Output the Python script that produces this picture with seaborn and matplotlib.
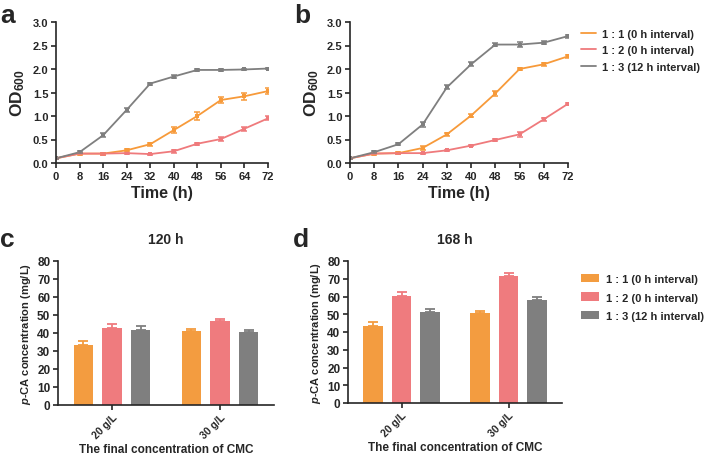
import numpy as np
import pandas as pd
import matplotlib
matplotlib.use("Agg")
import matplotlib.pyplot as plt
import seaborn as sns
from matplotlib.lines import Line2D
from matplotlib.patches import Patch

# ==========================================
# DATA
# ==========================================
time_h = [0, 8, 16, 24, 32, 40, 48, 56, 64, 72]
ratios = ["1 : 1 (0 h interval)", "1 : 2 (0 h interval)", "1 : 3 (12 h interval)"]

# panel a - OD600
a_11 = [0.10, 0.20, 0.20, 0.27, 0.40, 0.70, 1.00, 1.34, 1.42, 1.53]
a_12 = [0.10, 0.20, 0.20, 0.21, 0.19, 0.25, 0.41, 0.51, 0.73, 0.95]
a_13 = [0.10, 0.23, 0.59, 1.13, 1.69, 1.84, 1.98, 1.98, 1.99, 2.01]
a_11_err = [0.01, 0.02, 0.02, 0.02, 0.03, 0.07, 0.09, 0.06, 0.07, 0.06]
a_12_err = [0.01, 0.01, 0.02, 0.01, 0.01, 0.03, 0.02, 0.04, 0.04, 0.04]
a_13_err = [0.01, 0.02, 0.04, 0.04, 0.02, 0.03, 0.02, 0.02, 0.02, 0.02]

# panel b - OD600
b_11 = [0.10, 0.20, 0.21, 0.32, 0.61, 1.01, 1.48, 2.00, 2.10, 2.27]
b_12 = [0.10, 0.20, 0.21, 0.21, 0.27, 0.37, 0.49, 0.61, 0.93, 1.26]
b_13 = [0.10, 0.23, 0.40, 0.82, 1.61, 2.10, 2.52, 2.52, 2.56, 2.70]
b_11_err = [0.01, 0.02, 0.02, 0.05, 0.03, 0.04, 0.06, 0.03, 0.03, 0.03]
b_12_err = [0.01, 0.01, 0.01, 0.01, 0.01, 0.01, 0.02, 0.06, 0.03, 0.02]
b_13_err = [0.01, 0.02, 0.02, 0.05, 0.04, 0.04, 0.04, 0.05, 0.03, 0.03]

# panels c, d - p-CA concentration
cmc = ["20 g/L", "30 g/L"]
c_vals = {"1 : 1 (0 h interval)": [33.6, 41.0],
          "1 : 2 (0 h interval)": [42.9, 46.6],
          "1 : 3 (12 h interval)": [41.7, 40.6]}
c_err = {"1 : 1 (0 h interval)": [2.2, 1.2],
         "1 : 2 (0 h interval)": [2.0, 1.2],
         "1 : 3 (12 h interval)": [2.0, 1.2]}
d_vals = {"1 : 1 (0 h interval)": [43.5, 50.9],
          "1 : 2 (0 h interval)": [60.5, 71.4],
          "1 : 3 (12 h interval)": [51.4, 58.0]}
d_err = {"1 : 1 (0 h interval)": [2.2, 0.8],
         "1 : 2 (0 h interval)": [1.8, 1.8],
         "1 : 3 (12 h interval)": [1.8, 1.7]}

line_colors = ["#F79A3A", "#EF7A7C", "#7F7F7F"]
bar_colors = ["#F39C40", "#EF7B7E", "#7F7F7F"]

# ==========================================
# STYLE
# ==========================================
sns.set_style("ticks")
plt.rcParams["font.family"] = ["Liberation Sans", "DejaVu Sans"]
plt.rcParams["font.weight"] = "bold"
plt.rcParams["axes.labelweight"] = "bold"
plt.rcParams["axes.titleweight"] = "bold"
plt.rcParams["mathtext.fontset"] = "custom"
plt.rcParams["mathtext.rm"] = "Liberation Sans:bold"
plt.rcParams["mathtext.bf"] = "Liberation Sans:bold"
plt.rcParams["mathtext.it"] = "Liberation Sans:italic:bold"
plt.rcParams["axes.linewidth"] = 1.2
plt.rcParams["xtick.major.width"] = 1.2
plt.rcParams["ytick.major.width"] = 1.2
plt.rcParams["xtick.major.size"] = 3.5
plt.rcParams["ytick.major.size"] = 3.5
plt.rcParams["xtick.major.pad"] = 2
plt.rcParams["ytick.major.pad"] = 2

fig = plt.figure(figsize=(7.08, 4.56), dpi=100)
W, H = 708.0, 456.0

def add_ax(left, right, top, bottom):
    return fig.add_axes([left / W, 1 - bottom / H, (right - left) / W, (bottom - top) / H])

ax_a = add_ax(56, 268, 23, 164)
ax_b = add_ax(350, 568, 23, 164)
ax_c = add_ax(58, 274, 262, 406)
ax_d = add_ax(348, 562, 262, 404)


# ------------------------------------------
# LINE PANELS
# ------------------------------------------
def growth_panel(ax, series, errors):
    rows = []
    for name, vals in zip(ratios, series):
        for t, v in zip(time_h, vals):
            rows.append({"time": t, "od": v, "ratio": name})
    df = pd.DataFrame(rows)
    sns.lineplot(data=df, x="time", y="od", hue="ratio", hue_order=ratios,
                 palette=line_colors, marker="s", markersize=3, markeredgewidth=0,
                 linewidth=1.3, legend=False, ax=ax)
    for vals, err, col in zip(series, errors, line_colors):
        ax.errorbar(time_h, vals, yerr=err, fmt="none", ecolor=col,
                    elinewidth=1.1, capsize=2.3, capthick=1.1)
    ax.set_xlim(0, 72)
    ax.set_ylim(0, 3.0)
    ax.set_xticks(time_h)
    ax.set_yticks(np.arange(0, 3.01, 0.5))
    ax.yaxis.set_major_formatter(matplotlib.ticker.FormatStrFormatter("%.1f"))
    ax.tick_params(labelsize=8)
    ax.set_xlabel("Time (h)", fontsize=11.5, labelpad=3)
    ax.set_ylabel(r"OD$_{600}$", fontsize=12.5, labelpad=4)
    sns.despine(ax=ax)
    for lab in ax.get_xticklabels() + ax.get_yticklabels():
        lab.set_fontweight("bold")


growth_panel(ax_a, [a_11, a_12, a_13], [a_11_err, a_12_err, a_13_err])
growth_panel(ax_b, [b_11, b_12, b_13], [b_11_err, b_12_err, b_13_err])

line_handles = [Line2D([0], [0], color=c, lw=1.3) for c in line_colors]
ax_b.legend(line_handles, ratios, loc="upper left", bbox_to_anchor=(1.04, 0.985),
            frameon=False, fontsize=8, handlelength=1.3, handletextpad=0.6,
            labelspacing=0.6, borderaxespad=0)


# ------------------------------------------
# BAR PANELS
# ------------------------------------------
def bar_panel(ax, vals, errs, title):
    rows = []
    for name in ratios:
        for g, v in zip(cmc, vals[name]):
            rows.append({"cmc": g, "pca": v, "ratio": name})
    df = pd.DataFrame(rows)
    sns.barplot(data=df, x="cmc", y="pca", hue="ratio", hue_order=ratios,
                palette=bar_colors, saturation=1, width=0.8, gap=0.33, linewidth=0,
                errorbar=None, legend=False, ax=ax)
    for cont, name, col in zip(ax.containers, ratios, bar_colors):
        xs = [b.get_x() + b.get_width() / 2 for b in cont]
        ys = [b.get_height() for b in cont]
        e = errs[name]
        ax.errorbar(xs, ys, yerr=[np.zeros(len(e)), e], fmt="none", ecolor=col,
                    elinewidth=1.3, capsize=3.8, capthick=1.3)
    ax.set_xlim(-0.5, 1.5)
    ax.set_ylim(0, 80)
    ax.set_yticks(np.arange(0, 81, 10))
    ax.tick_params(axis="y", labelsize=8.5)
    ax.tick_params(axis="x", pad=1)
    ax.set_xticks([0, 1])
    ax.set_xticklabels(cmc, rotation=45, ha="right", rotation_mode="anchor",
                       fontweight="bold", fontsize=7.5)
    for lab in ax.get_yticklabels():
        lab.set_fontweight("bold")
    ax.set_xlabel("The final concentration of CMC", fontsize=8.5)
    ax.xaxis.set_label_coords(0.5, -0.265)
    ax.set_ylabel(r"$\it{p}$-CA concentration (mg/L)", fontsize=8, labelpad=3)
    ax.set_title(title, fontsize=10, pad=13)
    sns.despine(ax=ax)


bar_panel(ax_c, c_vals, c_err, "120 h")
bar_panel(ax_d, d_vals, d_err, "168 h")

bar_handles = [Patch(facecolor=c, edgecolor="none") for c in bar_colors]
ax_d.legend(bar_handles, ratios, loc="upper left", bbox_to_anchor=(1.07, 0.94),
            frameon=False, fontsize=8, handlelength=1.6, handleheight=0.8,
            handletextpad=0.6, labelspacing=0.75, borderaxespad=0)

# panel letters
for lbl, x, y in [("a", 0, 23), ("b", 294, 23), ("c", 0, 247), ("d", 293, 247)]:
    fig.text(x / W, 1 - y / H, lbl, fontsize=19, fontweight="bold", ha="left", va="baseline")

plt.savefig("out.png", dpi=100)
